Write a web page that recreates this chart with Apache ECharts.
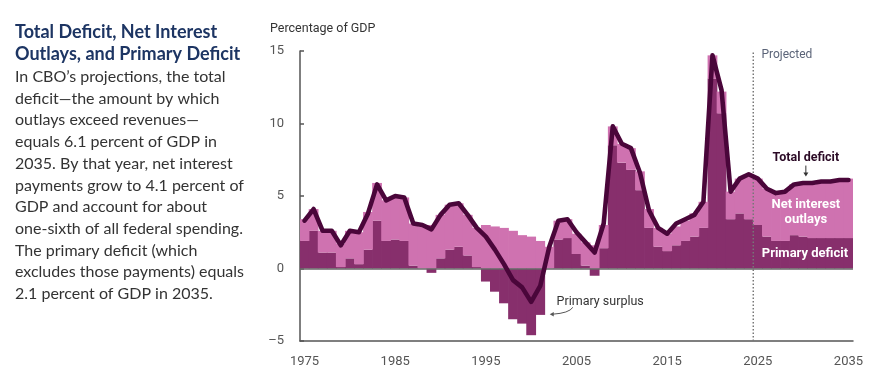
<!DOCTYPE html>
<html><head><meta charset="utf-8">
<script src="https://cdn.jsdelivr.net/npm/echarts@6/dist/echarts.min.js"></script>
<style>html,body{margin:0;padding:0;background:#fff}#c{width:886px;height:380px}</style>
</head><body><div id="c"></div>
<script>
const years = ['1975','1976','1977','1978','1979','1980','1981','1982','1983','1984',
  '1985','1986','1987','1988','1989','1990','1991','1992','1993','1994',
  '1995','1996','1997','1998','1999','2000','2001','2002','2003','2004',
  '2005','2006','2007','2008','2009','2010','2011','2012','2013','2014',
  '2015','2016','2017','2018','2019','2020','2021','2022','2023','2024',
  '2025','2026','2027','2028','2029','2030','2031','2032','2033','2034','2035'];
const primaryDeficit = [1.9,2.6,1.1,1.1,0.1,0.7,0.3,1.3,3.3,1.9,
  2.0,1.9,0.2,0.0,-0.3,0.7,1.3,1.5,0.9,0.1,
  -0.9,-1.6,-2.4,-3.5,-3.8,-4.6,-3.2,0.0,2.0,2.1,
  1.0,0.2,-0.5,1.4,8.5,7.3,6.8,5.4,2.8,1.5,
  1.2,1.6,1.9,2.2,2.8,13.1,10.7,3.4,3.8,3.4,
  3.0,2.2,1.9,1.9,2.3,2.2,2.1,2.1,2.1,2.1,2.1];
const netInterest = [1.5,1.5,1.5,1.5,1.6,1.9,2.2,2.6,2.6,2.8,
  3.0,3.0,2.9,2.9,3.0,3.0,3.1,3.0,2.8,2.7,
  3.0,2.9,2.8,2.6,2.3,2.2,1.9,1.5,1.3,1.3,
  1.4,1.6,1.6,1.6,1.3,1.3,1.5,1.3,1.3,1.3,
  1.2,1.3,1.4,1.6,1.8,1.6,1.5,1.9,2.4,3.1,
  3.2,3.3,3.3,3.4,3.5,3.6,3.7,3.8,3.9,4.0,4.1];
const totalDeficit = [3.3,4.1,2.6,2.6,1.6,2.6,2.5,3.8,5.8,4.7,
  5.0,4.9,3.1,3.0,2.7,3.7,4.4,4.5,3.7,2.8,
  2.2,1.3,0.3,-0.8,-1.3,-2.3,-1.2,1.5,3.3,3.4,
  2.5,1.8,1.1,3.1,9.8,8.6,8.3,6.6,4.0,2.8,
  2.4,3.1,3.4,3.7,4.6,14.7,12.3,5.3,6.2,6.5,
  6.2,5.5,5.2,5.3,5.8,5.9,5.9,6.0,6.0,6.1,6.1];
const yMin = -5, yMax = 15, yStep = 5;
const projectionBoundary = 2024.5;

const DARK = '#872f6c', LIGHT = '#cf72b0', LINE = '#4a063a', AXIS = '#555';
const labelFont = 'Roboto, "Liberation Sans", sans-serif';

const chart = echarts.init(document.getElementById('c'), null, {renderer: 'canvas'});
const tickEvery = (i, v) => (Number(v) - 1975) % 10 === 0;
chart.setOption({
  animation: false,
  grid: {left: 300, right: 33, top: 51, bottom: 39},
  xAxis: [{
    type: 'category', data: years, boundaryGap: true,
    axisLine: {onZero: false, lineStyle: {color: AXIS, width: 1.5}},
    axisTick: {interval: tickEvery, alignWithLabel: true, inside: true, length: 5, lineStyle: {color: AXIS, width: 1.5}},
    axisLabel: {interval: tickEvery, color: AXIS, fontSize: 13, fontFamily: labelFont, margin: 14},
    splitLine: {show: false}
  }, {
    type: 'value', min: 1974.5, max: 2035.5, show: false
  }],
  yAxis: {
    type: 'value', min: yMin, max: yMax, interval: yStep,
    axisLine: {show: true, lineStyle: {color: AXIS, width: 1.5}},
    axisTick: {show: true, inside: true, length: 4, lineStyle: {color: AXIS, width: 1.5}},
    axisLabel: {color: AXIS, fontSize: 13, fontFamily: labelFont, margin: 16,
      formatter: v => v < 0 ? '\u2013' + Math.abs(v) : String(v)},
    splitLine: {show: false}
  },
  series: [{
    name: 'Primary deficit', type: 'bar', stack: 'd', data: primaryDeficit,
    itemStyle: {color: DARK}, barWidth: '108%', barGap: '-100%'
  }, {
    name: 'Net interest outlays', type: 'bar', stack: 'd', data: netInterest,
    itemStyle: {color: LIGHT}, barWidth: '108%'
  }, {
    name: 'Total deficit', type: 'line', data: totalDeficit, symbol: 'none', z: 5,
    lineStyle: {color: LINE, width: 4.6, join: 'round', cap: 'round'},
    markLine: {silent: true, symbol: 'none', label: {show: false}, z: 4,
      lineStyle: {color: '#666', width: 1.5, type: 'solid'}, data: [{yAxis: 0}]}
  }, {
    name: 'Projected', type: 'line', xAxisIndex: 1, symbol: 'none', z: 3,
    data: [[projectionBoundary, yMin], [projectionBoundary, yMax]],
    lineStyle: {color: '#777', width: 1.5, type: [1.5, 2]}
  }]
});

const px = (x, y) => chart.convertToPixel({xAxisIndex: 1, yAxisIndex: 0}, [x, y]);
const tdl = px(2030.3, 7.66);
const ta1 = px(2030.3, 7.1), ta2 = px(2030.3, 6.35);
const nil = px(2030.3, 3.9);
const pdl = px(2030.2, 1.05);
const psl = px(2002.8, -2.32);
const pa1 = px(2004.6, -2.68), pa2 = px(2002.05, -3.15);
const prl = px(2025.4, 14.7);

chart.setOption({graphic: [
  {type: 'text', left: 15, top: 21, style: {
    text: 'Total Deficit, Net Interest\nOutlays, and Primary Deficit',
    font: 'bold 18px Lato, sans-serif', fill: '#1d3563', lineHeight: 22}},
  {type: 'text', left: 15, top: 66, style: {
    text: 'In CBO\u2019s projections, the total\ndeficit\u2014the amount by which\noutlays exceed revenues\u2014\nequals 6.1 percent of GDP in\n2035. By that year, net interest\npayments grow to 4.1 percent of\nGDP and account for about\none-sixth of all federal spending.\nThe primary deficit (which\nexcludes those payments) equals\n2.1 percent of GDP in 2035.',
    font: '16px Lato, sans-serif', fill: '#333', lineHeight: 21.7}},
  {type: 'text', left: 270, top: 22, style: {
    text: 'Percentage of GDP', font: '12.5px ' + labelFont, fill: '#333'}},
  {type: 'text', x: prl[0], y: prl[1], style: {
    text: 'Projected', font: '12px ' + labelFont, fill: '#5b6478', textAlign: 'left', textVerticalAlign: 'middle'}},
  {type: 'text', x: tdl[0], y: tdl[1], z: 10, style: {
    text: 'Total deficit', font: 'bold 12.5px ' + labelFont, fill: '#2b0a26', textAlign: 'center', textVerticalAlign: 'middle',
    stroke: '#fff', lineWidth: 3}},
  {type: 'line', z: 10, shape: {x1: ta1[0], y1: ta1[1], x2: ta2[0], y2: ta2[1] - 3}, style: {stroke: '#333', lineWidth: 1}},
  {type: 'polygon', z: 10, shape: {points: [[ta2[0] - 2.5, ta2[1] - 4], [ta2[0] + 2.5, ta2[1] - 4], [ta2[0], ta2[1]]]}, style: {fill: '#333'}},
  {type: 'text', x: nil[0], y: nil[1], z: 10, style: {
    text: 'Net interest\noutlays', font: 'bold 13px ' + labelFont, fill: '#fff', textAlign: 'center', textVerticalAlign: 'middle', lineHeight: 15}},
  {type: 'text', x: pdl[0], y: pdl[1], z: 10, style: {
    text: 'Primary deficit', font: 'bold 13px ' + labelFont, fill: '#fff', textAlign: 'center', textVerticalAlign: 'middle'}},
  {type: 'text', x: psl[0], y: psl[1], z: 10, style: {
    text: 'Primary surplus', font: '12.5px ' + labelFont, fill: '#333', textAlign: 'left', textVerticalAlign: 'middle'}},
  {type: 'bezierCurve', z: 10, shape: {x1: pa1[0], y1: pa1[1], x2: pa2[0] + 3, y2: pa2[1],
    cpx1: pa1[0] - 4, cpy1: pa2[1] - 1}, style: {stroke: '#555', lineWidth: 1, fill: null}},
  {type: 'polygon', z: 10, shape: {points: [[pa2[0] + 4, pa2[1] - 2.2], [pa2[0] + 4, pa2[1] + 2.2], [pa2[0], pa2[1]]]}, style: {fill: '#555'}}
]});
</script></body></html>
